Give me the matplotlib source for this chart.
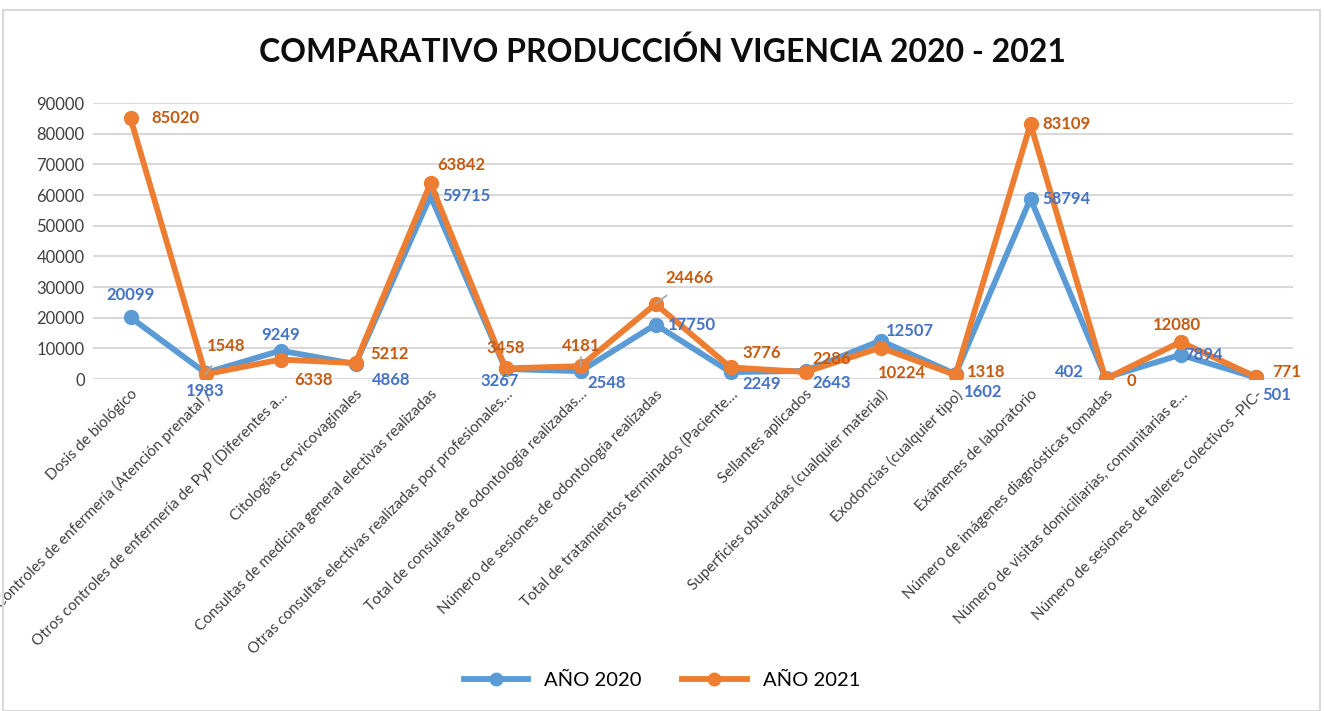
import matplotlib
matplotlib.use("Agg")
import matplotlib.pyplot as plt
from matplotlib.patches import Rectangle
from matplotlib.lines import Line2D

categories = [
    "Dosis de biológico",
    "Controles de enfermería (Atención prenatal /",
    "Otros controles de enfermería de PyP (Diferentes a…",
    "Citologías cervicovaginales",
    "Consultas de medicina general electivas realizadas",
    "Otras consultas electivas realizadas por profesionales…",
    "Total de consultas de odontología realizadas…",
    "Número de sesiones de odontología realizadas",
    "Total de tratamientos terminados (Paciente…",
    "Sellantes aplicados",
    "Superficies obturadas (cualquier material)",
    "Exodoncias (cualquier tipo)",
    "Exámenes de laboratorio",
    "Número de imágenes diagnósticas tomadas",
    "Número de visitas domiciliarias, comunitarias e…",
    "Número de sesiones de talleres colectivos -PIC-",
]
values_2020 = [20099, 1983, 9249, 4868, 59715, 3267, 2548, 17750, 2249, 2643, 12507, 1602, 58794, 402, 7894, 501]
values_2021 = [85020, 1548, 6338, 5212, 63842, 3458, 4181, 24466, 3776, 2286, 10224, 1318, 83109, 0, 12080, 771]
series_names = ["AÑO 2020", "AÑO 2021"]
yticks = list(range(0, 90001, 10000))

# label offsets in pixels (dx, dy) relative to the point
off_2020 = [(0, 22), (0, -18), (0, 16), (36, -16), (36, 0), (-6, -12), (26, -12), (36, 0),
            (31, -12), (26, -12), (29, 10), (28, -18), (36, 0), (-36, 6), (23, 0), (21, -18)]
off_2021 = [(45, 0), (21, 28), (33, -20), (34, 9), (31, 18), (0, 20), (1, 20), (34, 26),
            (31, 14), (26, 13), (21, -25), (31, 3), (36, 0), (26, -2), (-4, 17), (31, 5)]
leaders_2021 = {1: True, 6: True, 7: True}

c20 = "#5B9BD5"
c21 = "#ED7D31"
t20 = "#4472C4"
t21 = "#C55A11"

plt.rcParams['font.family'] = ['Lato', 'DejaVu Sans']

fig = plt.figure(figsize=(13.24, 7.11), dpi=100)
fig.patches.append(Rectangle((3/1324, 0), 1317/1324, 701/711, transform=fig.transFigure,
                             fill=False, edgecolor="#D9D9D9", linewidth=1.5))
ax = fig.add_axes([93/1324, 1 - 379/711, 1200/1324, 276/711])

x = list(range(len(categories)))
ax.plot(x, values_2020, color=c20, lw=4.2, marker='o', ms=10, solid_capstyle='round', zorder=3)
ax.plot(x, values_2021, color=c21, lw=4.2, marker='o', ms=10, solid_capstyle='round', zorder=4)

for i, v in enumerate(values_2020):
    dx, dy = off_2020[i]
    ax.annotate(str(v), (i, v), xytext=(dx, dy), textcoords='offset pixels',
                ha='center', va='center', color=t20, fontsize=12, fontweight='bold', zorder=6)
for i, v in enumerate(values_2021):
    dx, dy = off_2021[i]
    ap = None
    if i in leaders_2021:
        ap = dict(arrowstyle='-', color='#A6A6A6', lw=1.2, shrinkA=8, shrinkB=0)
    ax.annotate(str(v), (i, v), xytext=(dx, dy), textcoords='offset pixels',
                ha='center', va='center', color=t21, fontsize=12, fontweight='bold',
                arrowprops=ap, zorder=6)

ax.set_xlim(-0.5, len(categories) - 0.5)
ax.set_ylim(0, 90000)
ax.set_yticks(yticks)
ax.set_yticklabels([str(t) for t in yticks], fontsize=12, color="#404040")
ax.set_xticks(x)
ax.set_xticklabels(categories, rotation=45, ha='right', rotation_mode='anchor',
                   fontsize=11, color="#404040")
ax.tick_params(axis='both', length=0, pad=6)
ax.grid(axis='y', color='#D9D9D9', lw=1.5)
ax.set_axisbelow(True)
for s in ax.spines.values():
    s.set_visible(False)

fig.text(662/1324, 1 - 52/711, "COMPARATIVO PRODUCCIÓN VIGENCIA 2020 - 2021",
         ha='center', va='center', fontsize=23, fontweight='bold', color='#0D0D0D')

handles = [Line2D([], [], color=c20, lw=4.2, marker='o', ms=9),
           Line2D([], [], color=c21, lw=4.2, marker='o', ms=9)]
fig.legend(handles, series_names, loc='center', bbox_to_anchor=(662/1324, 1 - 680/711),
           ncol=2, frameon=False, fontsize=14.5, handlelength=3.2, columnspacing=2.0)

fig.savefig("out.png", dpi=100)
